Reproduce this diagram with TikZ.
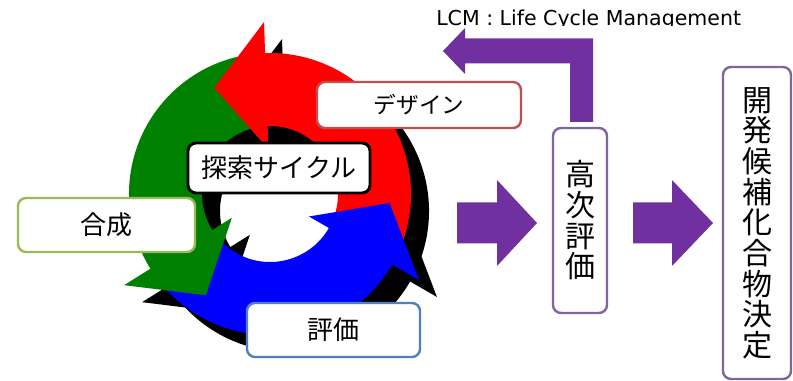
\documentclass[tikz,border=0pt]{standalone}
\usepackage{fontspec}
\setmainfont{Noto Sans CJK JP}
\newfontfamily\lcmfont{DejaVu Sans}
\definecolor{purp}{HTML}{7030A0}
\definecolor{dzn}{HTML}{C0504D}
\definecolor{gsn}{HTML}{9BBB59}
\definecolor{hyk}{HTML}{4F81BD}
\definecolor{kou}{HTML}{8064A2}
\definecolor{cgreen}{RGB}{0,128,0}
\newcommand\cycbody[2]{(#1:141) arc[start angle=#1, end angle=#2, radius=141] -- (#2:68) arc[start angle=#2, end angle=#1, radius=68] -- cycle}
\newcommand\cychead[1]{(#1:172) -- ({#1+25.7}:119.9) -- (#1:45) -- cycle}
\tikzset{
  lbl/.style={draw, fill=white, rounded corners=6pt, line width=1.8pt, inner sep=0pt, align=center, text=black},
  blockarrow/.style={fill=purp, draw=none},
  shadowpart/.style={fill=black, draw=none, shift={(18,-17)}}
}
\begin{document}
\begin{tikzpicture}[x=0.75pt,y=-0.75pt]
\useasboundingbox (0,0) rectangle (793,381);
% cycle
\begin{scope}[shift={(270,194)}, x=0.75pt, y=0.75pt]
  \fill[shadowpart] \cycbody{-26}{95};
  \fill[shadowpart] \cycbody{96}{215};
  \fill[shadowpart] \cycbody{216}{333};
  \fill[shadowpart] \cychead{92};
  \fill[shadowpart] \cychead{212};
  \fill[shadowpart] \cychead{330};
  \fill[red] \cycbody{-26}{95};
  \fill[cgreen] \cycbody{96}{215};
  \fill[blue] \cycbody{216}{333};
  \fill[red] \cychead{92};
  \fill[cgreen] \cychead{212};
  \fill[blue] \cychead{330};
\end{scope}
% purple block arrows
\fill[blockarrow] (570,122) -- (570,63.5) -- (465,63.5) -- (465,74) -- (443,51) -- (465,28) -- (465,38.5) -- (593,38.5) -- (593,122) -- cycle;
\fill[blockarrow] (457,202.5) -- (497,202.5) -- (497,180) -- (537,223) -- (497,266) -- (497,243.5) -- (457,243.5) -- cycle;
\fill[blockarrow] (633,202.5) -- (672,202.5) -- (672,180) -- (713,223) -- (672,266) -- (672,243.5) -- (633,243.5) -- cycle;
% label boxes
\node[lbl, draw=dzn, minimum width=153pt, minimum height=34.5pt, font=\fontsize{17pt}{19pt}\selectfont] (design) at (419,105) {デザイン};
\node[lbl, draw=black, line width=2.2pt, minimum width=136.5pt, minimum height=37.5pt, font=\fontsize{19.5pt}{22pt}\selectfont] (cycle) at (279,168) {探索サイクル};
\node[lbl, draw=gsn, minimum width=132.75pt, minimum height=40.5pt, font=\fontsize{19.5pt}{22pt}\selectfont] (gosei) at (106.5,225) {合成};
\node[lbl, draw=hyk, minimum width=129.75pt, minimum height=40.5pt, font=\fontsize{19.5pt}{22pt}\selectfont] (hyoka) at (333.5,330) {評価};
\node[lbl, draw=kou, minimum width=40.5pt, minimum height=138.75pt, font=\fontsize{22.5pt}{23pt}\selectfont] (koji) at (580,220.5) {高\\次\\評\\価};
\node[lbl, draw=kou, minimum width=51pt, minimum height=234pt, font=\fontsize{22.5pt}{23pt}\selectfont] (kettei) at (757,223) {開\\発\\候\\補\\化\\合\\物\\決\\定};
% LCM caption (cut at the top edge as in the reference)
\begin{scope}
  \clip (0,0) rectangle (793,26);
  \node[anchor=base west, inner sep=0pt, font=\lcmfont\fontsize{15.4pt}{18pt}\selectfont] (lcm) at (436,25.5) {LCM : Life Cycle Management};
\end{scope}
\end{tikzpicture}
\end{document}
